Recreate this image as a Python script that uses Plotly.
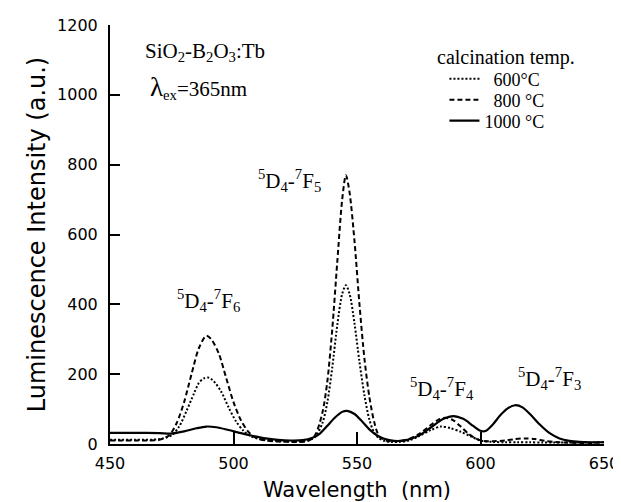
import plotly.graph_objects as go

# 600 °C (dotted)
wl_600 = [450, 460, 470, 475, 478, 481, 484, 486, 488, 490, 492, 495, 498, 501, 504, 507, 510, 515, 520, 525,
          530, 533, 536, 538, 540, 542, 544, 545.5, 547, 549, 551, 553, 555, 557, 559, 561, 564, 567, 571, 575,
          580, 584, 588, 592, 596, 600, 605, 610, 615, 620, 625, 630, 640, 650]
int_600 = [12, 12, 14, 25, 50, 95, 145, 175, 188, 190, 180, 150, 105, 65, 38, 22, 15, 10, 8, 7,
           10, 20, 60, 120, 220, 340, 430, 455, 430, 345, 235, 140, 70, 32, 16, 9, 6, 6, 10, 22,
           40, 50, 45, 35, 22, 10, 6, 5, 5, 5, 4, 4, 4, 5]

# 800 °C (dashed)
wl_800 = [450, 455, 460, 465, 470, 474, 477, 480, 483, 486, 489, 491, 494, 497, 500, 503, 506, 509, 513, 518,
          525, 530, 533, 536, 538, 540, 542, 544, 545.5, 547, 549, 551, 553, 555, 557, 559, 562, 566, 570, 575,
          580, 583, 586, 589, 592, 595, 598, 601, 605, 610, 614, 618, 622, 626, 630, 635, 640, 645, 650]
int_800 = [10, 10, 10, 10, 12, 25, 60, 120, 200, 275, 310, 300, 260, 190, 120, 68, 35, 18, 10, 7,
           6, 8, 25, 90, 180, 330, 520, 700, 770, 720, 580, 400, 245, 135, 62, 22, 9, 8, 12, 28,
           55, 70, 75, 68, 50, 30, 16, 9, 8, 10, 14, 16, 14, 9, 6, 4, 3, 3, 5]

# 1000 °C (solid)
wl_1000 = [450, 460, 470, 475, 480, 485, 489, 493, 498, 503, 508, 513, 518, 523, 528, 532, 535, 538, 541, 544,
           546, 549, 552, 555, 558, 561, 565, 570, 575, 580, 585, 589, 593, 597, 600, 602, 605, 608, 611, 614,
           617, 620, 624, 628, 632, 636, 640, 645, 650]
int_1000 = [32, 32, 31, 30, 36, 45, 50, 48, 40, 31, 23, 16, 12, 10, 11, 18, 30, 52, 75, 92,
            95, 86, 65, 42, 25, 15, 9, 11, 24, 48, 72, 80, 72, 52, 38, 37, 56, 82, 102, 111,
            105, 86, 56, 31, 16, 9, 6, 5, 5]

series_names = ["\u00a0\u00a0600°C", "\u00a0\u00a0800 °C", "1000 °C"]
x_ticks = [450, 500, 550, 600, 650]
y_ticks = [0, 200, 400, 600, 800, 1000, 1200]

serif = "Liberation Serif"
sans = "DejaVu Sans"

fig = go.Figure()
fig.add_trace(go.Scatter(x=wl_600, y=int_600, mode="lines", name=series_names[0], legend="legend",
                         line=dict(color="black", width=2, dash="2px,2px", shape="spline", smoothing=0.8)))
fig.add_trace(go.Scatter(x=wl_800, y=int_800, mode="lines", name=series_names[1], legend="legend2",
                         line=dict(color="black", width=2, dash="5px,3px", shape="spline", smoothing=0.8)))
fig.add_trace(go.Scatter(x=wl_1000, y=int_1000, mode="lines", name=series_names[2], legend="legend3",
                         line=dict(color="black", width=2.2, shape="spline", smoothing=0.8)))

annots = [
    dict(x=463.4, y=1123, text="SiO<sub>2</sub>-B<sub>2</sub>O<sub>3</sub>:Tb", xanchor="left", size=21),
    dict(x=465.5, y=1022, text="<span style='font-size:27px'>λ</span><sub>ex</sub>=365nm", xanchor="left", size=21),
    dict(x=489.7, y=410, text="<sup>5</sup>D<sub>4</sub>-<sup>7</sup>F<sub>6</sub>", xanchor="center", size=21),
    dict(x=522.5, y=756, text="<sup>5</sup>D<sub>4</sub>-<sup>7</sup>F<sub>5</sub>", xanchor="center", size=21),
    dict(x=584.5, y=160, text="<sup>5</sup>D<sub>4</sub>-<sup>7</sup>F<sub>4</sub>", xanchor="center", size=21),
    dict(x=627.8, y=189, text="<sup>5</sup>D<sub>4</sub>-<sup>7</sup>F<sub>3</sub>", xanchor="center", size=21),
]
for a in annots:
    fig.add_annotation(x=a["x"], y=a["y"], xref="x", yref="y", text=a["text"], showarrow=False,
                       xanchor=a["xanchor"], yanchor="middle",
                       font=dict(family=serif, size=a["size"], color="black"))

fig.add_annotation(x=0.658, y=0.922, xref="paper", yref="paper", text="calcination temp.",
                   showarrow=False, xanchor="left", yanchor="middle",
                   font=dict(family=serif, size=20, color="black"))

axis_common = dict(showgrid=False, zeroline=False, showline=True, linecolor="black", linewidth=2,
                   ticks="inside", tickcolor="black", tickwidth=2, mirror=False, automargin=False,
                   tickfont=dict(family=sans, size=16, color="black"))

leg_common = dict(xanchor="left", yanchor="middle", bgcolor="rgba(0,0,0,0)", itemwidth=30,
                  font=dict(family=serif, size=18, color="black"))

fig.update_layout(
    width=621, height=502,
    paper_bgcolor="white", plot_bgcolor="white",
    margin=dict(l=102, r=25, t=17, b=66),
    xaxis=dict(range=[450, 650], tickvals=x_ticks, ticklen=12, ticklabelstandoff=4,
               title=dict(text="Wavelength\u00a0\u00a0(nm)", font=dict(family=sans, size=21, color="black"), standoff=10),
               **axis_common),
    yaxis=dict(range=[0, 1200], tickvals=y_ticks, ticklen=10, ticklabelstandoff=7,
               title=dict(text="Luminescence Intensity (a.u.)", font=dict(family=sans, size=24, color="black"), standoff=5),
               **axis_common),
    legend=dict(x=0.677, y=0.871, **leg_common),
    legend2=dict(x=0.677, y=0.821, **leg_common),
    legend3=dict(x=0.677, y=0.771, **leg_common),
    showlegend=True,
)

fig.write_html("out.html")
